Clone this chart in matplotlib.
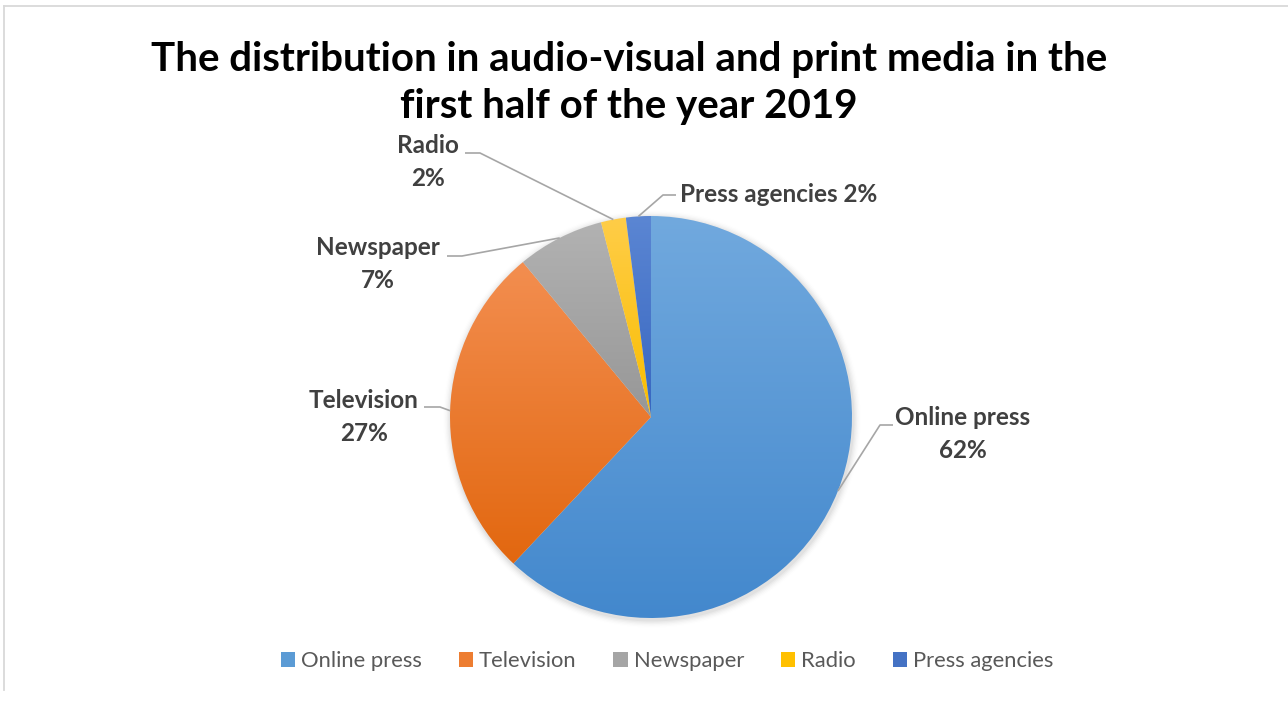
import numpy as np
import matplotlib
matplotlib.use("Agg")
import matplotlib.pyplot as plt
from matplotlib.lines import Line2D
from matplotlib.patches import Rectangle

# ---- data ----
categories = ["Online press", "Television", "Newspaper", "Radio", "Press agencies"]
shares = [62, 27, 7, 2, 2]
title = "The distribution in audio-visual and print media in the\nfirst half of the year 2019"

# gradient colours (top, bottom) per slice
grad_top = ["#71a9de", "#f38e50", "#b2b2b2", "#ffcd48", "#5b86d3"]
grad_bot = ["#4388cd", "#e2670f", "#979797", "#f9bd00", "#3766c0"]
legend_col = ["#5b9bd5", "#ed7d31", "#a5a5a5", "#ffc000", "#4472c4"]

W, H = 1288, 706
plt.rcParams['font.family'] = ['Lato', 'DejaVu Sans']
fig = plt.figure(figsize=(W / 100, H / 100), dpi=100)
ax = fig.add_axes([0, 0, 1, 1])
ax.set_xlim(0, W)
ax.set_ylim(0, H)
ax.axis('off')

def py(y):  # pixel-from-top to data y
    return H - y

cx, cy, R = 651, py(417), 201

# subtle shadow
for k, a in enumerate(np.linspace(0.035, 0.005, 6)):
    sh = plt.Circle((cx + 1, cy - 2), R + 1.5 + k * 1.3, color='k', alpha=a, lw=0, zorder=0)
    ax.add_patch(sh)

wedges, _ = ax.pie(shares, startangle=90, counterclock=False, radius=R, center=(cx, cy),
                   wedgeprops=dict(linewidth=0, edgecolor='none'), frame=True)
ax.set_xlim(0, W)
ax.set_ylim(0, H)
ax.axis('off')

for w, c1, c2 in zip(wedges, grad_top, grad_bot):
    w.set_facecolor('none')
    ext = w.get_path().get_extents()
    a = np.array(matplotlib.colors.to_rgb(c1))
    b = np.array(matplotlib.colors.to_rgb(c2))
    t = np.linspace(0, 1, 256)[:, None, None]
    img = a[None, None, :] * (1 - t) + b[None, None, :] * t
    img = np.repeat(img, 4, axis=1)
    im = ax.imshow(img, extent=[ext.x0, ext.x1, ext.y0, ext.y1], origin='upper',
                   aspect='auto', interpolation='bilinear', zorder=1)
    im.set_clip_path(w)
ax.set_xlim(0, W)
ax.set_ylim(0, H)
ax.set_aspect('equal')

# ---- data labels with leader lines ----
lab_col = "#404040"
line_col = "#a6a6a6"
# (text x, text y, ha, elbow x, elbow y, line end x)
label_layout = [
    (963, 434, 'center', 880, 425, 893),
    (364, 417, 'center', 440, 407, 424),
    (378, 264, 'center', 462, 256, 447),
    (428, 162, 'center', 480, 153, 465),
    (680, 195, 'left', 663, 195, 676),
]
for w, cat, s, (tx, ty, ha, ex, ey, lx) in zip(wedges, categories, shares, label_layout):
    mid = np.deg2rad((w.theta1 + w.theta2) / 2)
    px, pyy = cx + R * np.cos(mid), cy + R * np.sin(mid)
    ax.plot([px, ex, lx], [pyy, py(ey), py(ey)], color=line_col, lw=1.2, zorder=3,
            solid_capstyle='butt')
    txt = f"{cat} {s}%" if ha == 'left' else f"{cat}\n{s}%"
    ax.text(tx, py(ty), txt, ha=ha, va='center', fontsize=17.5, fontweight='bold',
            color=lab_col, linespacing=1.56, zorder=4)

# ---- title ----
ax.text(629, py(83), title, ha='center', va='center', fontsize=29, fontweight='bold',
        color='black', linespacing=1.34)

# ---- legend ----
handles = [Rectangle((0, 0), 1, 1, facecolor=c, edgecolor='none') for c in legend_col]
leg = ax.legend(handles, categories, loc='center', bbox_to_anchor=(667 / W, 1 - 661 / H),
                ncol=5, frameon=False, handlelength=0.64, handleheight=0.64,
                handletextpad=0.28, columnspacing=1.68, fontsize=15.8)
for t in leg.get_texts():
    t.set_color("#595959")

# ---- chart border ----
ax.add_line(Line2D([4.5, W], [py(5.5), py(5.5)], color="#d9d9d9", lw=1.3))
ax.add_line(Line2D([4.5, 4.5], [py(5.5), py(690)], color="#d9d9d9", lw=1.3))

fig.savefig("out.png", dpi=100, facecolor='white')
